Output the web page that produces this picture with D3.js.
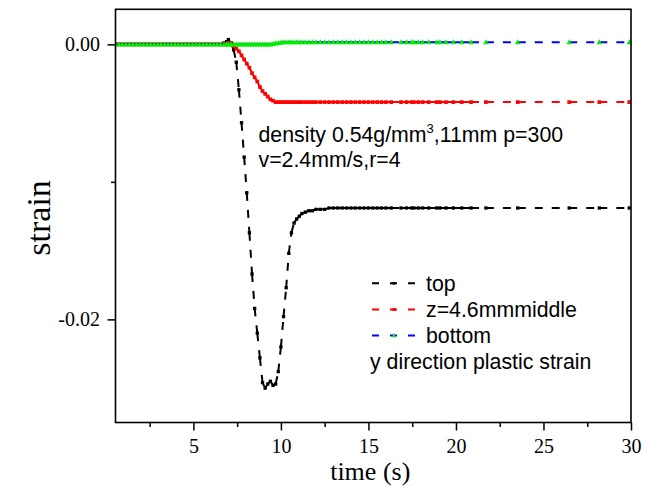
<!DOCTYPE html>
<html>
<head>
<meta charset="utf-8">
<script src="https://cdn.jsdelivr.net/npm/d3@7"></script>
<style>
  html, body { margin: 0; padding: 0; background: #fff; }
  svg { display: block; }
</style>
</head>
<body>
<svg id="chart" width="653" height="486"></svg>
<script>
// Sample times (s) shared by the three probes
const times = [0.55, 0.75, 0.95, 1.15, 1.35, 1.55, 1.75, 1.95, 2.15, 2.35, 2.55, 2.75, 2.95, 3.15, 3.35, 3.55,
  3.75, 3.95, 4.15, 4.35, 4.55, 4.75, 4.95, 5.15, 5.35, 5.55, 5.75, 5.95, 6.15, 6.35, 6.55, 6.75,
  6.9, 7.0, 7.15, 7.3, 7.45, 7.6, 7.75, 7.9, 8.05, 8.2, 8.35, 8.5, 8.65, 8.8, 8.95, 9.1,
  9.25, 9.4, 9.55, 9.7, 9.85, 10.0, 10.15, 10.3, 10.45, 10.6, 10.75, 10.9, 11.05, 11.2,
  11.4, 11.6, 11.8, 12.0, 12.25, 12.5, 12.75, 13.0, 13.25, 13.5, 13.75, 14.0, 14.25, 14.5,
  14.75, 15.0, 15.25, 15.5, 15.75, 16.0, 16.3, 16.86, 17.18, 17.47, 17.6, 17.85, 18.1, 18.44,
  18.9, 19.09, 19.43, 19.85, 20.33, 20.86, 21.71, 23.53, 26.47, 28.19, 29.9];

// y-direction plastic strain, top probe
const topStrain = [0, 0, 0, 0, 0, 0, 0, 0, 0, 0, 0, 0, 0, 0, 0, 0,
  0, 0, 0, 0, 0, 0, 0, 0, 0, 0, 0, 0, 0, 0, 0, 0.0001,
  0.0002, 0.00035, 0.0001, -0.0004, -0.0013, -0.0033, -0.0057, -0.0082, -0.0108, -0.0137, -0.0167, -0.0192, -0.0210, -0.0228, -0.0246, -0.0250,
  -0.0247, -0.0245, -0.0248, -0.0247, -0.0238, -0.0220, -0.0198, -0.0177, -0.0152, -0.0137, -0.0130, -0.0127, -0.0125, -0.0123,
  -0.0122, -0.0121, -0.0121, -0.0120, -0.0120, -0.0120, -0.0119, -0.0119, -0.0119, -0.0119, -0.0119, -0.0119, -0.0119, -0.0119,
  -0.0119, -0.0119, -0.0119, -0.0119, -0.0119, -0.0119, -0.0119, -0.0119, -0.0119, -0.0119, -0.0119, -0.0119, -0.0119, -0.0119,
  -0.0119, -0.0119, -0.0119, -0.0119, -0.0119, -0.0119, -0.0119, -0.0119, -0.0119, -0.0119, -0.0119];

// z = 4.6 mm, middle probe
const middleStrain = [0, 0, 0, 0, 0, 0, 0, 0, 0, 0, 0, 0, 0, 0, 0, 0,
  0, 0, 0, 0, 0, 0, 0, 0, 0, 0, 0, 0, 0, 0, 0, 0,
  0, 0.0001, 0.0001, -0.0001, -0.0003, -0.0005, -0.0008, -0.0011, -0.0014, -0.0017, -0.0021, -0.0024, -0.0027, -0.0031, -0.0034, -0.0036,
  -0.0038, -0.0040, -0.0041, -0.0042, -0.0042, -0.0042, -0.0042, -0.0042, -0.0042, -0.0042, -0.0042, -0.0042, -0.0042, -0.0042,
  -0.0042, -0.0042, -0.0042, -0.0042, -0.0042, -0.0042, -0.0042, -0.0042, -0.0042, -0.0042, -0.0042, -0.0042, -0.0042, -0.0042,
  -0.0042, -0.0042, -0.0042, -0.0042, -0.0042, -0.0042, -0.0042, -0.0042, -0.0042, -0.0042, -0.0042, -0.0042, -0.0042, -0.0042,
  -0.0042, -0.0042, -0.0042, -0.0042, -0.0042, -0.0042, -0.0042, -0.0042, -0.0042, -0.0042, -0.0042];

// bottom probe
const bottomStrain = [0, 0, 0, 0, 0, 0, 0, 0, 0, 0, 0, 0, 0, 0, 0, 0,
  0, 0, 0, 0, 0, 0, 0, 0, 0, 0, 0, 0, 0, 0, 0, 0,
  0, 0, 0, 0, 0, 0, 0, 0, 0, 0, 0, 0, 0, 0, 0, 0,
  0, 0, 0.00003, 0.00007, 0.0001, 0.00013, 0.00015, 0.00015, 0.00015, 0.00015, 0.00015, 0.00015, 0.00015, 0.00015,
  0.00015, 0.00015, 0.00015, 0.00015, 0.00015, 0.00015, 0.00015, 0.00015, 0.00015, 0.00015, 0.00015, 0.00015, 0.00015, 0.00015,
  0.00015, 0.00015, 0.00015, 0.00015, 0.00015, 0.00015, 0.00015, 0.00015, 0.00015, 0.00015, 0.00015, 0.00015, 0.00015, 0.00015,
  0.00015, 0.00015, 0.00015, 0.00015, 0.00015, 0.00015, 0.00015, 0.00015, 0.00015, 0.00015, 0.00015];

const seriesNames = ["top", "z=4.6mmmiddle", "bottom"];
const xMajorTicks = [5, 10, 15, 20, 25, 30];
const xMinorTicks = [2.5, 7.5, 12.5, 17.5, 22.5, 27.5];
const yMajorTicks = [0, -0.02];
const yMajorLabels = ["0.00", "-0.02"];
const yMinorTicks = [-0.01];
const noteLine1 = "density 0.54g/mm";
const noteSup = "3";
const noteLine1b = ",11mm p=300";
const noteLine2 = "v=2.4mm/s,r=4";
const legendNote = "y direction plastic strain";
const xTitle = "time (s)";
const yTitle = "strain";

const svg = d3.select("#chart");
const margin = { left: 115.5, top: 9.3, right: 22, bottom: 63.5 };
const W = 653, H = 486;
const iw = W - margin.left - margin.right;
const ih = H - margin.top - margin.bottom;

const x = d3.scaleLinear().domain([0.55, 30]).range([margin.left, margin.left + iw]);
const y = d3.scaleLinear().domain([-0.0275, 0.00255]).range([margin.top + ih, margin.top]);

const serif = "'Liberation Serif', 'Times New Roman', serif";
const sans = "'Liberation Sans', Arial, sans-serif";
const sansSize = 21.3;

svg.append("defs").append("clipPath").attr("id", "plotClip")
  .append("rect").attr("x", margin.left).attr("y", margin.top).attr("width", iw).attr("height", ih);

const series = [
  { name: seriesNames[0], values: topStrain, line: "#000", mark: "#000", shape: "square", size: 3.3 },
  { name: seriesNames[1], values: middleStrain, line: "#ff0000", mark: "#ff0000", shape: "square", size: 3.7 },
  { name: seriesNames[2], values: bottomStrain, line: "#0000ff", mark: "#00ee00", shape: "triangle", size: 5.4 }
];

const lineGen = d3.line().x(d => x(d[0])).y(d => y(d[1]));
const plot = svg.append("g").attr("clip-path", "url(#plotClip)");

function drawMarker(g, shape, cx, cy, s, color) {
  if (shape === "square") {
    g.append("rect").attr("x", cx - s / 2).attr("y", cy - s / 2)
      .attr("width", s).attr("height", s).attr("fill", color);
  } else {
    const h = s * 0.95;
    g.append("path")
      .attr("d", `M${cx},${cy - h * 0.6}L${cx + s / 2},${cy + h * 0.4}L${cx - s / 2},${cy + h * 0.4}Z`)
      .attr("fill", color);
  }
}

series.forEach(s => {
  const pts = times.map((t, i) => [t, s.values[i]]);
  const g = plot.append("g");
  // each segment carries its own dash pattern, so closely spaced samples read as a solid line
  d3.pairs(pts).forEach(pair => {
    g.append("path").attr("d", lineGen(pair))
      .attr("fill", "none").attr("stroke", s.line).attr("stroke-width", 2)
      .attr("stroke-dasharray", "8,9");
  });
  pts.forEach(p => drawMarker(g, s.shape, x(p[0]), y(p[1]), s.size, s.mark));
});

// axes
const axisFont = g => g.selectAll("text").attr("font-family", serif).attr("font-size", 20).attr("fill", "#000");

const xAxis = svg.append("g").attr("transform", `translate(0,${margin.top + ih})`)
  .call(d3.axisBottom(x).tickValues(xMajorTicks).tickFormat(d3.format("d")).tickSize(8).tickPadding(8.5));
xAxis.select(".domain").remove();
xAxis.selectAll("line").attr("stroke-width", 1.5);
axisFont(xAxis);

const xMinor = svg.append("g").attr("transform", `translate(0,${margin.top + ih})`)
  .call(d3.axisBottom(x).tickValues(xMinorTicks).tickFormat("").tickSize(4.5));
xMinor.select(".domain").remove();
xMinor.selectAll("line").attr("stroke-width", 1.5);

const yAxis = svg.append("g").attr("transform", `translate(${margin.left},0)`)
  .call(d3.axisLeft(y).tickValues(yMajorTicks).tickFormat((d, i) => yMajorLabels[i]).tickSize(8).tickPadding(7.5));
yAxis.select(".domain").remove();
yAxis.selectAll("line").attr("stroke-width", 1.5);
axisFont(yAxis);

const yMinor = svg.append("g").attr("transform", `translate(${margin.left},0)`)
  .call(d3.axisLeft(y).tickValues(yMinorTicks).tickFormat("").tickSize(4.5));
yMinor.select(".domain").remove();
yMinor.selectAll("line").attr("stroke-width", 1.5);

// frame
svg.append("rect").attr("x", margin.left).attr("y", margin.top).attr("width", iw).attr("height", ih)
  .attr("fill", "none").attr("stroke", "#000").attr("stroke-width", 1.6);

// axis titles
svg.append("text").attr("x", margin.left + iw / 2 - 3).attr("y", 480)
  .attr("text-anchor", "middle").attr("font-family", serif).attr("font-size", 26).text(xTitle);
svg.append("text").attr("transform", `translate(50,${margin.top + ih / 2 + 2}) rotate(-90)`)
  .attr("text-anchor", "middle").attr("font-family", serif).attr("font-size", 34).text(yTitle);

// annotation
const note = svg.append("text").attr("x", 258.5).attr("y", 141.7)
  .attr("font-family", sans).attr("font-size", sansSize).attr("fill", "#000");
note.append("tspan").text(noteLine1);
note.append("tspan").attr("font-size", 13).attr("dy", -8.5).text(noteSup);
note.append("tspan").attr("dy", 8.5).text(noteLine1b);
svg.append("text").attr("x", 258.5).attr("y", 166.7)
  .attr("font-family", sans).attr("font-size", sansSize).attr("fill", "#000").text(noteLine2);

// legend
const legendRows = [283.3, 309.5, 335.5];
series.forEach((s, i) => {
  const g = svg.append("g");
  g.append("line").attr("x1", 372).attr("x2", 415).attr("y1", legendRows[i]).attr("y2", legendRows[i])
    .attr("stroke", s.line).attr("stroke-width", 2).attr("stroke-dasharray", "7,11");
  drawMarker(g, s.shape, 394, legendRows[i], s.size * 0.8, s.mark);
  g.append("text").attr("x", 426).attr("y", legendRows[i] + 7.4)
    .attr("font-family", sans).attr("font-size", sansSize).text(s.name);
});
svg.append("text").attr("x", 370).attr("y", 368.8)
  .attr("font-family", sans).attr("font-size", sansSize).text(legendNote);
</script>
</body>
</html>
